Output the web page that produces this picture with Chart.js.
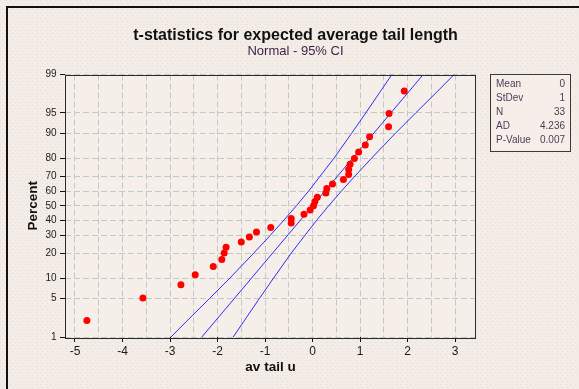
<!DOCTYPE html>
<html>
<head>
<meta charset="utf-8">
<title>t-statistics for expected average tail length</title>
<script src="https://cdn.jsdelivr.net/npm/chart.js@4"></script>
<style>
  html, body { margin: 0; padding: 0; background: #f3ebe4; }
  #wrap { width: 579px; height: 389px; position: relative; }
  canvas { display: block; }
</style>
</head>
<body>
<div id="wrap"><canvas id="chart" width="579" height="389"></canvas></div>
<script>
// Ordered sample of the t-statistic (av tail u), smallest first
const avTailU = [
  -4.75, -3.57, -2.77, -2.47, -2.09, -1.91, -1.86, -1.82, -1.50, -1.33,
  -1.18, -0.88, -0.45, -0.45, -0.18, -0.05, 0.02, 0.05, 0.10, 0.28,
  0.30, 0.42, 0.65, 0.76, 0.76, 0.79, 0.88, 0.97, 1.11, 1.20,
  1.60, 1.61, 1.93
];
// Plotting position (percent) of each ordered observation
const percentRank = [
  2.10, 5.09, 8.08, 11.08, 14.07, 17.07, 20.06, 23.05, 26.05, 29.04,
  32.04, 35.03, 38.02, 41.02, 44.01, 47.01, 50.00, 52.99, 55.99, 58.98,
  61.98, 64.97, 67.96, 70.96, 73.95, 76.95, 79.94, 82.93, 85.93, 88.92,
  91.92, 94.91, 97.90
];

// Fitted normal line and its 95% confidence band
const bandPercent = [1, 2, 5, 10, 20, 30, 40, 50, 60, 70, 80, 90, 95, 98, 99];
const bandLeft  = [-2.98, -2.66, -2.17, -1.74, -1.24, -0.89, -0.60, -0.34, -0.09, 0.16, 0.45, 0.82, 1.12, 1.45, 1.67];
const bandRight = [-1.67, -1.45, -1.12, -0.82, -0.45, -0.16, 0.09, 0.34, 0.60, 0.89, 1.24, 1.74, 2.17, 2.66, 2.98];
const fitPercent = [1, 99];
const fitX = [-2.33, 2.33];

// Axis ticks
const yTickPercents = [1, 5, 10, 20, 30, 40, 50, 60, 70, 80, 90, 95, 99];
const xTickLabels = ['-5', '-4', '-3', '-2', '-1', '0', '1', '2', '3'];

// Summary table
const statNames  = ['Mean', 'StDev', 'N', 'AD', 'P-Value'];
const statValues = ['0', '1', '33', '4.236', '0.007'];

const chartTitle = 't-statistics for expected average tail length';
const chartSubtitle = 'Normal - 95% CI';

// Inverse of the standard normal CDF (Acklam), used for the probability scale
function invNorm(p) {
  const a = [-3.969683028665376e+01, 2.209460984245205e+02, -2.759285104469687e+02, 1.383577518672690e+02, -3.066479806614716e+01, 2.506628277459239e+00];
  const b = [-5.447609879822406e+01, 1.615858368580409e+02, -1.556989798598866e+02, 6.680131188771972e+01, -1.328068155288572e+01];
  const c = [-7.784894002430293e-03, -3.223964580411365e-01, -2.400758277161838e+00, -2.549671010229528e+00, 4.374664141464968e+00, 2.938163982698783e+00];
  const d = [7.784695709041462e-03, 3.224671290700398e-01, 2.445134137142996e+00, 3.754408661907416e+00];
  const pl = 0.02425, ph = 1 - pl;
  let q, r;
  if (p < pl) {
    q = Math.sqrt(-2 * Math.log(p));
    return (((((c[0]*q+c[1])*q+c[2])*q+c[3])*q+c[4])*q+c[5]) / ((((d[0]*q+d[1])*q+d[2])*q+d[3])*q+1);
  }
  if (p <= ph) {
    q = p - 0.5; r = q * q;
    return (((((a[0]*r+a[1])*r+a[2])*r+a[3])*r+a[4])*r+a[5])*q / (((((b[0]*r+b[1])*r+b[2])*r+b[3])*r+b[4])*r+1);
  }
  q = Math.sqrt(-2 * Math.log(1 - p));
  return -(((((c[0]*q+c[1])*q+c[2])*q+c[3])*q+c[4])*q+c[5]) / ((((d[0]*q+d[1])*q+d[2])*q+d[3])*q+1);
}
const probit = pct => invNorm(pct / 100);

const FONT = "'Liberation Sans', Arial, sans-serif";
Chart.defaults.font.family = FONT;

const lineBlue = '#2e2ef0';
const plotFill = '#f6efe9';

// Faint dotted paper texture for the outer background
function makeTexture(ctx) {
  const t = document.createElement('canvas');
  t.width = 10; t.height = 6;
  const g = t.getContext('2d');
  g.fillStyle = '#f4ede7';
  g.fillRect(0, 0, 10, 6);
  g.fillStyle = '#e8dbd2';
  g.fillRect(0, 0, 1, 1); g.fillRect(5, 0, 1, 1);
  g.fillRect(2, 3, 1, 1); g.fillRect(7, 3, 1, 1);
  g.fillStyle = '#d2e8f2';
  g.fillRect(7, 0, 1, 1);
  return ctx.createPattern(t, 'repeat');
}

const framePlugin = {
  id: 'frame',
  beforeDraw(chart) {
    const { ctx, chartArea: a, width, height } = chart;
    ctx.save();
    ctx.fillStyle = makeTexture(ctx);
    ctx.fillRect(0, 0, width, height);
    ctx.fillStyle = '#111';
    ctx.fillRect(6, 6, width - 6, 2);
    ctx.fillRect(6, 6, 2, height - 6);
    ctx.fillStyle = plotFill;
    ctx.fillRect(a.left, a.top, a.right - a.left, a.bottom - a.top);
    ctx.restore();
  },
  afterDraw(chart) {
    const { ctx, chartArea: a } = chart;
    ctx.save();
    // plot frame
    ctx.strokeStyle = '#2a2a2a';
    ctx.lineWidth = 1;
    ctx.strokeRect(Math.round(a.left) + 0.5, Math.round(a.top) + 0.5,
                   Math.round(a.right - a.left) - 1, Math.round(a.bottom - a.top));
    // titles
    ctx.textAlign = 'center';
    ctx.textBaseline = 'alphabetic';
    ctx.fillStyle = '#111';
    ctx.font = 'bold 16px ' + FONT;
    ctx.fillText(chartTitle, 295.5, 39.5);
    ctx.fillStyle = '#3c1c44';
    ctx.font = '13px ' + FONT;
    ctx.fillText(chartSubtitle, 295.5, 55);
    // summary table
    const bx = 490, by = 74, bw = 80, bh = 77;
    ctx.fillStyle = plotFill;
    ctx.fillRect(bx, by, bw, bh);
    ctx.strokeStyle = '#3a3a3a';
    ctx.strokeRect(bx + 0.5, by + 0.5, bw, bh);
    ctx.font = '10px ' + FONT;
    ctx.fillStyle = '#4b3d57';
    ctx.textBaseline = 'middle';
    statNames.forEach((name, i) => {
      const y = by + 10 + i * 14;
      ctx.textAlign = 'left';
      ctx.fillText(name, bx + 6, y);
      ctx.textAlign = 'right';
      ctx.fillText(statValues[i], bx + bw - 5, y);
    });
    ctx.restore();
  }
};

const xTickValues = [];
for (let v = -5; v <= 3.001; v += 0.5) xTickValues.push(Math.round(v * 10) / 10);

const gridColor = '#bfcac6';

new Chart(document.getElementById('chart'), {
  type: 'scatter',
  data: {
    datasets: [
      {
        label: 'av tail u',
        data: avTailU.map((x, i) => ({ x, y: probit(percentRank[i]) })),
        backgroundColor: '#ff0000',
        borderColor: '#ff0000',
        borderWidth: 0,
        pointRadius: 3.5,
        pointHoverRadius: 3.5,
        order: 0
      },
      {
        label: 'fit',
        data: fitPercent.map((p, i) => ({ x: fitX[i], y: probit(p) })),
        showLine: true, borderColor: lineBlue, borderWidth: 1, pointRadius: 0, order: 1
      },
      {
        label: 'lower',
        data: bandPercent.map((p, i) => ({ x: bandLeft[i], y: probit(p) })),
        showLine: true, borderColor: lineBlue, borderWidth: 1, pointRadius: 0, order: 1
      },
      {
        label: 'upper',
        data: bandPercent.map((p, i) => ({ x: bandRight[i], y: probit(p) })),
        showLine: true, borderColor: lineBlue, borderWidth: 1, pointRadius: 0, order: 1
      }
    ]
  },
  options: {
    responsive: false,
    animation: false,
    devicePixelRatio: 1,
    events: [],
    layout: { padding: { left: 18, right: 103, top: 74.5, bottom: 0 } },
    plugins: { legend: { display: false }, tooltip: { enabled: false } },
    scales: {
      x: {
        type: 'linear',
        min: -5.21,
        max: 3.44,
        afterBuildTicks: s => { s.ticks = xTickValues.map(v => ({ value: v })); },
        afterFit: s => { s.height = 52; },
        ticks: {
          autoSkip: false, maxRotation: 0, minRotation: 0,
          padding: 2,
          color: '#1a1a1a',
          font: { size: 12 },
          callback: v => Number.isInteger(v) ? xTickLabels[v + 5] : ''
        },
        grid: {
          color: gridColor,
          borderDash: [6, 3],
          tickLength: 5,
          tickBorderDash: [],
          tickColor: c => (c.tick && Number.isInteger(c.tick.value)) ? '#111' : 'rgba(0,0,0,0)',
          tickWidth: 1
        },
        border: { display: false, dash: [6, 3] },
        title: {
          display: true, text: 'av tail u', color: '#111',
          font: { size: 13.5, weight: 'bold' },
          padding: { top: 0, bottom: 14 }
        }
      },
      y: {
        type: 'linear',
        min: probit(1),
        max: probit(99),
        afterBuildTicks: s => { s.ticks = yTickPercents.map(p => ({ value: probit(p) })); },
        afterFit: s => { s.width = 47; },
        ticks: {
          autoSkip: false,
          padding: 3.5,
          color: '#1a1a1a',
          font: { size: 10 },
          callback: (v, i) => String(yTickPercents[i])
        },
        grid: {
          color: gridColor,
          borderDash: [6, 3],
          tickLength: 5,
          tickBorderDash: [],
          tickColor: '#111',
          tickWidth: 1
        },
        border: { display: false, dash: [6, 3] },
        title: {
          display: true, text: 'Percent', color: '#111',
          font: { size: 13.5, weight: 'bold' },
          padding: { top: 7, bottom: 0 }
        }
      }
    }
  },
  plugins: [framePlugin]
});
</script>
</body>
</html>
